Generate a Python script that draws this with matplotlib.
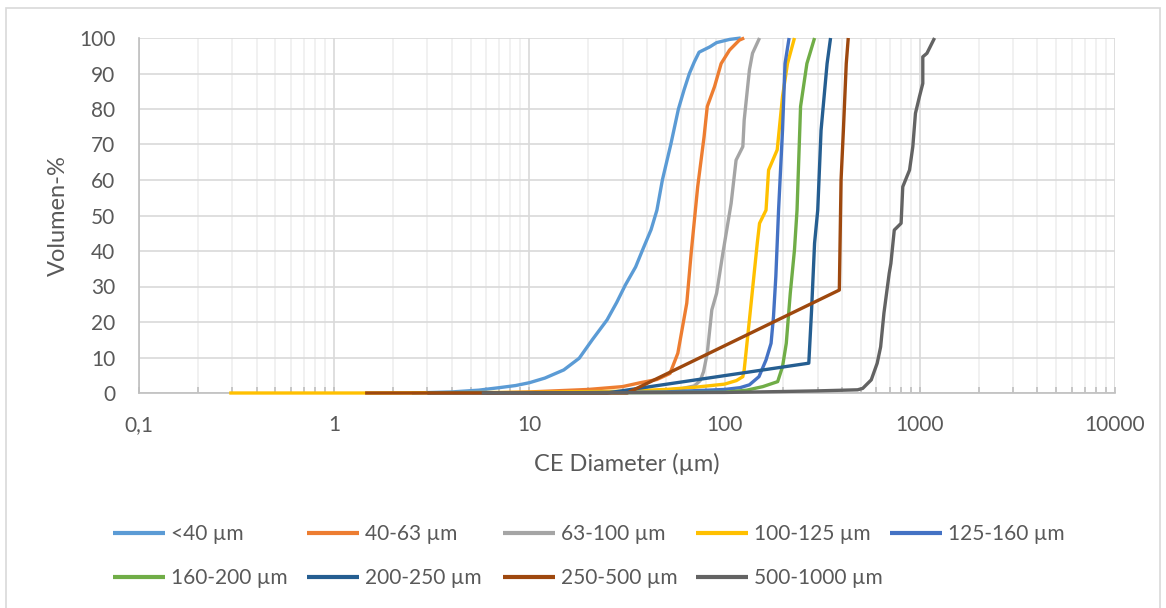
import matplotlib
matplotlib.use("Agg")
import matplotlib.pyplot as plt
from matplotlib.ticker import FixedLocator, FuncFormatter, LogLocator, NullFormatter
from matplotlib.patches import Rectangle

plt.rcParams["font.family"] = ["Lato", "DejaVu Sans"]

# Cumulative volume distributions per sieve fraction (CE diameter in µm, volume %)
labels = ["<40 µm", "40-63 µm", "63-100 µm", "100-125 µm", "125-160 µm",
          "160-200 µm", "200-250 µm", "250-500 µm", "500-1000 µm"]
colors = ["#5B9BD5", "#ED7D31", "#A5A5A5", "#FFC000", "#4472C4",
          "#70AD47", "#255E91", "#9E480E", "#636363"]

x_lt40 = [2.5, 4, 5.5, 7, 8.5, 10, 12, 15, 18, 21, 25, 28, 31, 35, 38, 42, 45, 48, 53, 58, 62, 66, 70, 74, 84, 91, 106, 121]
y_lt40 = [0, 0.3, 0.8, 1.5, 2.1, 2.9, 4.2, 6.5, 9.8, 15, 20.6, 25.5, 30.4, 35.5, 40.3, 46, 51.5, 60, 70, 80, 85.4, 90, 93.3, 96, 97.5, 98.7, 99.6, 100]

x_40_63 = [6, 10, 20, 30, 37, 45, 52.5, 57.6, 64, 67.4, 72.8, 78.5, 81.5, 88.8, 96, 106, 119, 126]
y_40_63 = [0, 0.3, 1.0, 1.8, 2.9, 3.8, 5.5, 11.2, 25.3, 39.4, 58.1, 72.2, 80.7, 86.3, 92.8, 96.6, 99.4, 100]

x_63_100 = [10, 30, 50, 60, 70, 75, 78, 81.5, 86, 91, 98, 108, 114.5, 124, 126, 134, 139, 151]
y_63_100 = [0, 0.3, 0.8, 1.2, 2, 3.5, 6, 11.2, 23.4, 28.1, 39.4, 53.4, 65.6, 69.4, 76.9, 91, 95.7, 100]

x_100_125 = [0.29, 1.44, 10, 30, 50, 70, 100, 115, 124, 126, 134, 147, 151, 163, 168, 186, 198, 210, 228]
y_100_125 = [0, 0, 0.2, 0.5, 1.0, 1.6, 2.5, 3.5, 4.6, 6.5, 20.6, 42.2, 47.8, 51.5, 62.8, 68.5, 83.5, 92.8, 100]

x_125_160 = [10, 50, 100, 120, 134, 150, 163, 173, 178, 183, 189, 198, 204, 214]
y_125_160 = [0, 0.3, 1.0, 1.5, 2.3, 4.6, 9.3, 14, 21.5, 32.8, 51.5, 74, 92.8, 100]

x_160_200 = [10, 100, 130, 157, 187, 198, 207, 217, 228, 235, 245, 264, 289]
y_160_200 = [0, 0.2, 0.8, 1.8, 3.2, 7.4, 14, 28.1, 40.3, 51.5, 80.7, 92.8, 100]

x_200_250 = [3, 25, 270, 279, 289, 300, 312, 335, 349]
y_200_250 = [0, 0, 8.4, 23.4, 42.2, 51.5, 74, 92.8, 100]

x_250_500 = [1.44, 31.7, 387, 395, 406, 420, 430]
y_250_500 = [0, 0, 29, 60, 74, 92.8, 100]

x_500_1000 = [5.7, 100, 190, 300, 480, 510, 564, 605, 630, 655, 697, 711, 740, 802, 818, 886, 921, 950, 996, 1036, 1036, 1088, 1190]
y_500_1000 = [0, 0.15, 0.4, 0.6, 0.9, 1.3, 3.7, 8.4, 13, 22.5, 33.7, 36.5, 45.9, 47.8, 58.1, 62.8, 69.4, 78.8, 83.5, 87.2, 94.7, 95.7, 100]

series_x = [x_lt40, x_40_63, x_63_100, x_100_125, x_125_160, x_160_200, x_200_250, x_250_500, x_500_1000]
series_y = [y_lt40, y_40_63, y_63_100, y_100_125, y_125_160, y_160_200, y_200_250, y_250_500, y_500_1000]

x_ticks = [0.1, 1, 10, 100, 1000, 10000]
x_tick_labels = ["0,1", "1", "10", "100", "1000", "10000"]
y_ticks = list(range(0, 101, 10))

text_color = "#595959"
grid_major = "#D9D9D9"
grid_minor = "#EFEFEF"

W, H = 1166, 608
fig = plt.figure(figsize=(W / 100, H / 100), dpi=100)
ax = fig.add_axes([139 / W, 1 - 393 / H, (1115 - 139) / W, (393 - 38) / H])

lines = []
for xs, ys, c, lab in zip(series_x, series_y, colors, labels):
    ln, = ax.plot(xs, ys, color=c, lw=2.4, label=lab, solid_joinstyle="round",
                  solid_capstyle="butt", clip_on=False, zorder=3)
    lines.append(ln)

ax.set_xscale("log")
ax.set_xlim(0.1, 10000)
ax.set_ylim(0, 100)

ax.xaxis.set_major_locator(FixedLocator(x_ticks))
ax.xaxis.set_major_formatter(FuncFormatter(lambda v, p: x_tick_labels[x_ticks.index(v)] if v in x_ticks else ""))
ax.xaxis.set_minor_locator(LogLocator(base=10, subs=range(2, 10)))
ax.xaxis.set_minor_formatter(NullFormatter())
ax.set_yticks(y_ticks)

ax.grid(True, which="major", axis="both", color=grid_major, lw=1.2, zorder=0)
ax.grid(True, which="minor", axis="x", color=grid_minor, lw=1.2, zorder=0)
ax.set_axisbelow(True)

ax.tick_params(axis="x", which="both", direction="in", length=4, width=1.2, color="#BFBFBF",
               labelsize=15, labelcolor=text_color, pad=16)
ax.tick_params(axis="y", which="both", length=0, labelsize=15, labelcolor=text_color, pad=17)

for s in ["top", "right"]:
    ax.spines[s].set_visible(False)
for s in ["left", "bottom"]:
    ax.spines[s].set_color("#BFBFBF")
    ax.spines[s].set_linewidth(1.2)

ax.set_xlabel("CE Diameter (µm)", fontsize=17, color=text_color, labelpad=13)
ax.set_ylabel("Volumen-%", fontsize=17, color=text_color, labelpad=7)

# Legend laid out row by row in five evenly spaced columns
col_x = [113, 307, 503, 696, 890]
ncol = len(col_x)
for j, cx in enumerate(col_x):
    idx = [i for i in range(j, len(lines), ncol)]
    leg = fig.legend([lines[i] for i in idx], [labels[i] for i in idx],
                     loc="upper left", bbox_to_anchor=(cx / W, 1 - 524 / H),
                     frameon=False, fontsize=15, handlelength=2.5, handletextpad=0.3,
                     labelspacing=1.15, borderpad=0, borderaxespad=0)
    for t in leg.get_texts():
        t.set_color(text_color)
    for l in leg.get_lines():
        l.set_linewidth(3)

fig.patches.append(Rectangle((6 / W, -0.05), (1160 - 6) / W, 1.05 - 8 / H,
                             transform=fig.transFigure, fill=False, edgecolor="#D9D9D9", lw=1.2))

fig.savefig("out.png", dpi=100)
